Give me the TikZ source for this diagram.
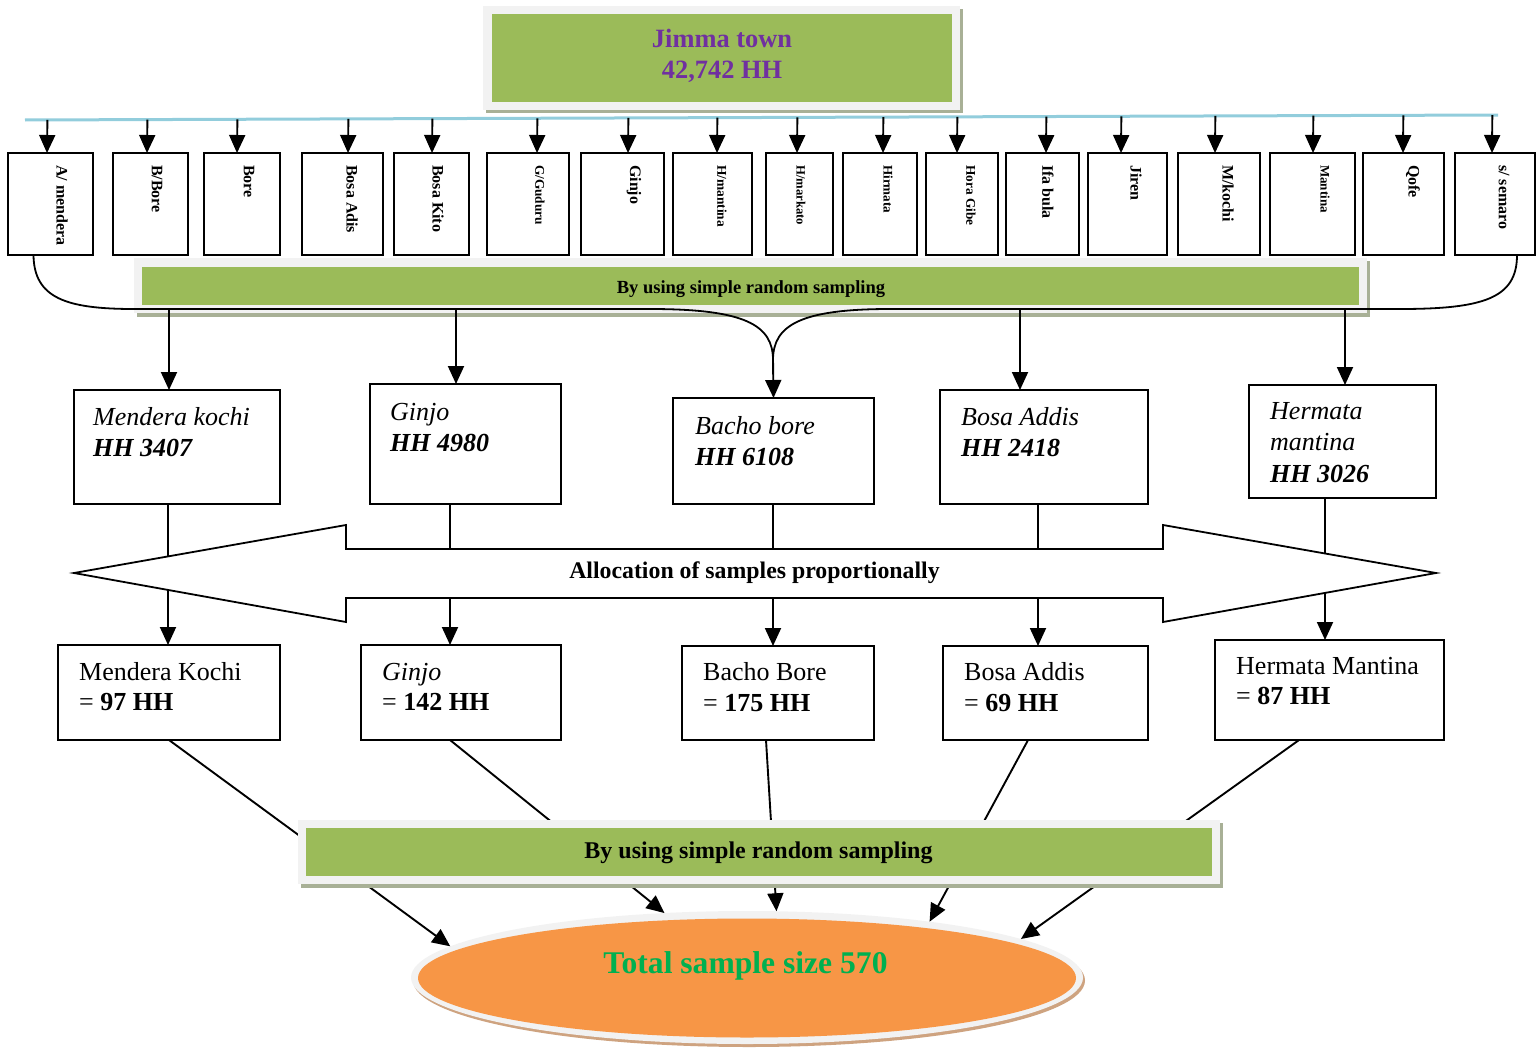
\documentclass[tikz,border=0pt]{standalone}
\usepackage{fontspec}
\setmainfont{Liberation Serif}
\usetikzlibrary{arrows.meta,calc,shapes.geometric}
\definecolor{bandgreen}{RGB}{155,187,89}
\definecolor{framegray}{RGB}{242,242,242}
\definecolor{shadowgray}{RGB}{168,176,150}
\definecolor{jpurple}{RGB}{112,48,160}
\definecolor{lblue}{RGB}{146,205,220}
\definecolor{eorange}{RGB}{247,150,70}
\definecolor{etan}{RGB}{206,163,128}
\definecolor{tgreen}{RGB}{0,176,80}
\newcommand{\fsz}[2]{\fontsize{#1}{#2}\selectfont}
\newcommand{\regbox}[7]{%
  \node[rbox, minimum width=#3-#2, minimum height=102, anchor=north west] (#1) at (#2,153) {};
  \coordinate (#1ax) at (#4,0);
  \draw[arr] ($(L1)!(#1ax)!(L2)$) -- (#1.north -| #1ax);
  \node[rot, font=\bfseries\fsz{#7}{#7}] (#1t) at (#5,165) {#6};
}
\begin{document}
\begin{tikzpicture}[x=1pt,y=-1pt,
  rbox/.style={draw=black, line width=1.8pt, fill=white, inner sep=0pt, outer sep=0pt},
  arr/.style={line width=1.9pt, -{Triangle[width=16pt,length=18pt]}},
  ln/.style={line width=1.8pt},
  rot/.style={rotate=-90, anchor=west, inner sep=0pt},
  plain/.style={inner sep=0pt, outer sep=0pt},
  txl/.style={anchor=base west, inner sep=0pt, font=\fsz{26}{31}},
  shadowbox/.style={fill=shadowgray, plain, anchor=north west},
  framebox/.style={fill=framegray, plain, anchor=north west},
  greenbox/.style={fill=bandgreen, plain, anchor=north west}
]
\useasboundingbox (0,0) rectangle (1536,1049);

% ---------- top box
\node[shadowbox, minimum width=477, minimum height=104] (topsh) at (486,9) {};
\node[framebox, minimum width=477, minimum height=104] (topfr) at (483,6) {};
\node[greenbox, minimum width=460, minimum height=88] (top) at (492,14) {};
\node[anchor=base, plain, font=\fsz{26.4}{30}\bfseries, text=jpurple] (topa) at (722,48) {Jimma town};
\node[anchor=base, plain, font=\fsz{26.4}{30}\bfseries, text=jpurple] (topb) at (722,78) {42,742 HH};

% ---------- distribution line and kebeles
\coordinate (L1) at (25,120);
\coordinate (L2) at (1498,115);
\draw[lblue, line width=3pt] (L1) -- (L2);

\regbox{r1}{8}{93}{47}{62}{A/ mendera}{16}
\regbox{r2}{113}{188}{147}{157}{B/Bore}{16}
\regbox{r3}{204}{280}{237}{249}{Bore}{16}
\regbox{r4}{302}{383}{348}{352}{Bosa Adis}{16}
\regbox{r5}{394}{469}{432}{438}{Bosa Kito}{16}
\regbox{r6}{487}{569}{537}{540}{G/Guduru}{13.3}
\regbox{r7}{581}{664}{628}{634}{Ginjo}{16}
\regbox{r8}{673}{752}{717}{722}{H/mantina}{13.4}
\regbox{r9}{766}{833}{797}{801}{H/markato}{12.7}
\regbox{r10}{843}{917}{883}{888}{Hirmata}{13.1}
\regbox{r11}{926}{998}{957}{971}{Hora Gibe}{13.3}
\regbox{r12}{1006}{1079}{1046}{1048}{Ifa bula}{16}
\regbox{r13}{1088}{1167}{1121}{1136}{Jiren}{16}
\regbox{r14}{1178}{1260}{1215}{1228}{M/kochi}{16}
\regbox{r15}{1270}{1355}{1313}{1325}{Mantina}{13}
\regbox{r16}{1363}{1444}{1403}{1413}{Qofe}{16}
\regbox{r17}{1455}{1535}{1492}{1504}{s/ semaro}{16}

% ---------- first sampling band
\node[shadowbox, minimum width=1233, minimum height=56] (b1sh) at (137,261) {};
\node[framebox, minimum width=1233, minimum height=55] (b1fr) at (134,258) {};
\node[greenbox, minimum width=1217, minimum height=38] (band1) at (142,267) {};
\node[anchor=base, plain, font=\fsz{18.5}{22}\bfseries] (band1t) at (751,293) {By using simple random sampling};

% ---------- middle boxes
\node[rbox, minimum width=206, minimum height=114, anchor=north west] (m1) at (74,390) {};
\node[rbox, minimum width=191, minimum height=120, anchor=north west] (m2) at (370,384) {};
\node[rbox, minimum width=201, minimum height=106, anchor=north west] (m3) at (673,398) {};
\node[rbox, minimum width=208, minimum height=114, anchor=north west] (m4) at (940,390) {};
\node[rbox, minimum width=187, minimum height=113, anchor=north west] (m5) at (1249,385) {};

\node[txl, font=\fsz{26}{31}\itshape] (m1a) at (93,425) {Mendera kochi};
\node[txl, font=\fsz{26}{31}\bfseries\itshape] (m1b) at (93,456) {HH 3407};
\node[txl, font=\fsz{26}{31}\itshape] (m2a) at (390,420) {Ginjo};
\node[txl, font=\fsz{26}{31}\bfseries\itshape] (m2b) at (390,451) {HH 4980};
\node[txl, font=\fsz{26}{31}\itshape] (m3a) at (695,434) {Bacho bore};
\node[txl, font=\fsz{26}{31}\bfseries\itshape] (m3b) at (695,465) {HH 6108};
\node[txl, font=\fsz{26}{31}\itshape] (m4a) at (961,425) {Bosa Addis};
\node[txl, font=\fsz{26}{31}\bfseries\itshape] (m4b) at (961,456) {HH 2418};
\node[txl, font=\fsz{26}{31}\itshape] (m5a) at (1270,419) {Hermata};
\node[txl, font=\fsz{26}{31}\itshape] (m5b) at (1270,450) {mantina};
\node[txl, font=\fsz{26}{31}\bfseries\itshape] (m5c) at (1270,482) {HH 3026};

% ---------- curved collector and arrows to middle boxes
\coordinate (cm) at (773,360);
\draw[ln] ($(r1.south west)!0.3!(r1.south east)$) .. controls (34,298) and (66,309) .. (134,309) -- (650,309) .. controls (745,309) and (773,325) .. (cm);
\draw[ln] ($(r17.south west)!0.775!(r17.south east)$) .. controls (1517,298) and (1484,309) .. (1400,309) -- (890,309) .. controls (801,309) and (773,325) .. (cm);
\draw[arr] (cm) -- (m3.north);
\coordinate (hl) at (0,309);
\coordinate (k1) at (169,0);
\coordinate (k2) at (456,0);
\coordinate (k4) at (1020,0);
\coordinate (k5) at (1345,0);
\draw[arr] (hl -| k1) -- (m1.north -| k1);
\draw[arr] (hl -| k2) -- (m2.north -| k2);
\draw[arr] (hl -| k4) -- (m4.north -| k4);
\draw[arr] (hl -| k5) -- (m5.north -| k5);

% ---------- bottom boxes
\node[rbox, minimum width=222, minimum height=95, anchor=north west] (s1) at (58,645) {};
\node[rbox, minimum width=200, minimum height=95, anchor=north west] (s2) at (361,645) {};
\node[rbox, minimum width=192, minimum height=94, anchor=north west] (s3) at (682,646) {};
\node[rbox, minimum width=205, minimum height=94, anchor=north west] (s4) at (943,646) {};
\node[rbox, minimum width=229, minimum height=100, anchor=north west] (s5) at (1215,640) {};

\node[txl] (s1a) at (79,680) {Mendera Kochi};
\node[txl] (s1b) at (79,710) {= \textbf{97 HH}};
\node[txl, font=\fsz{26}{31}\itshape] (s2a) at (382,680) {Ginjo};
\node[txl] (s2b) at (382,710) {= \textbf{142 HH}};
\node[txl] (s3a) at (703,680) {Bacho Bore};
\node[txl] (s3b) at (703,711) {= \textbf{175 HH}};
\node[txl] (s4a) at (964,680) {Bosa Addis};
\node[txl] (s4b) at (964,711) {= \textbf{69 HH}};
\node[txl] (s5a) at (1236,674) {Hermata Mantina};
\node[txl] (s5b) at (1236,704) {= \textbf{87 HH}};

% ---------- allocation columns and double arrow
\coordinate (c1) at (168,0);
\coordinate (c2) at (450,0);
\coordinate (c3) at (773,0);
\coordinate (c4) at (1038,0);
\coordinate (c5) at (1325,0);
\draw[arr] (m1.south -| c1) -- (s1.north -| c1);
\draw[arr] (m2.south -| c2) -- (s2.north -| c2);
\draw[arr] (m3.south -| c3) -- (s3.north -| c3);
\draw[arr] (m4.south -| c4) -- (s4.north -| c4);
\draw[arr] (m5.south -| c5) -- (s5.north -| c5);

\draw[ln, fill=white, line join=miter] (74,573) -- (346,525) -- (346,549) -- (1163,549) -- (1163,525) -- (1436,573) -- (1163,622) -- (1163,598) -- (346,598) -- (346,622) -- cycle;
\node[anchor=base, plain, font=\fsz{23.8}{28}\bfseries] (alloc) at (754.5,578) {Allocation of samples proportionally};

% ---------- total ellipse
\node[ellipse, fill=etan, plain, minimum width=672, minimum height=133] (ellsh) at (749,980.5) {};
\node[ellipse, fill=framegray, plain, minimum width=672, minimum height=133] (ell) at (747,977.5) {};
\node[ellipse, fill=eorange, plain, minimum width=658, minimum height=119] (ello) at (747,978) {};
\node[anchor=base, plain, font=\fsz{31.6}{36}\bfseries, text=tgreen] (total) at (745.5,973) {Total sample size 570};

\draw[arr] ($(s1.south west)!0.5!(s1.south east)$) -- (ell.174.4);
\draw[arr] ($(s2.south west)!0.445!(s2.south east)$) -- (ell.142.7);
\draw[arr] ($(s3.south west)!0.4375!(s3.south east)$) -- (ell.66.4);
\draw[arr] ($(s4.south west)!0.415!(s4.south east)$) -- (ell.17.9);
\draw[arr] ($(s5.south west)!0.367!(s5.south east)$) -- (ell.8.3);

% ---------- second sampling band
\node[shadowbox, minimum width=922, minimum height=65] (b2sh) at (301,823) {};
\node[framebox, minimum width=922, minimum height=64] (b2fr) at (298,820) {};
\node[greenbox, minimum width=906, minimum height=48] (band2) at (306,828) {};
\node[anchor=base, plain, font=\fsz{24}{28}\bfseries] (band2t) at (758.5,858) {By using simple random sampling};

\end{tikzpicture}
\end{document}
